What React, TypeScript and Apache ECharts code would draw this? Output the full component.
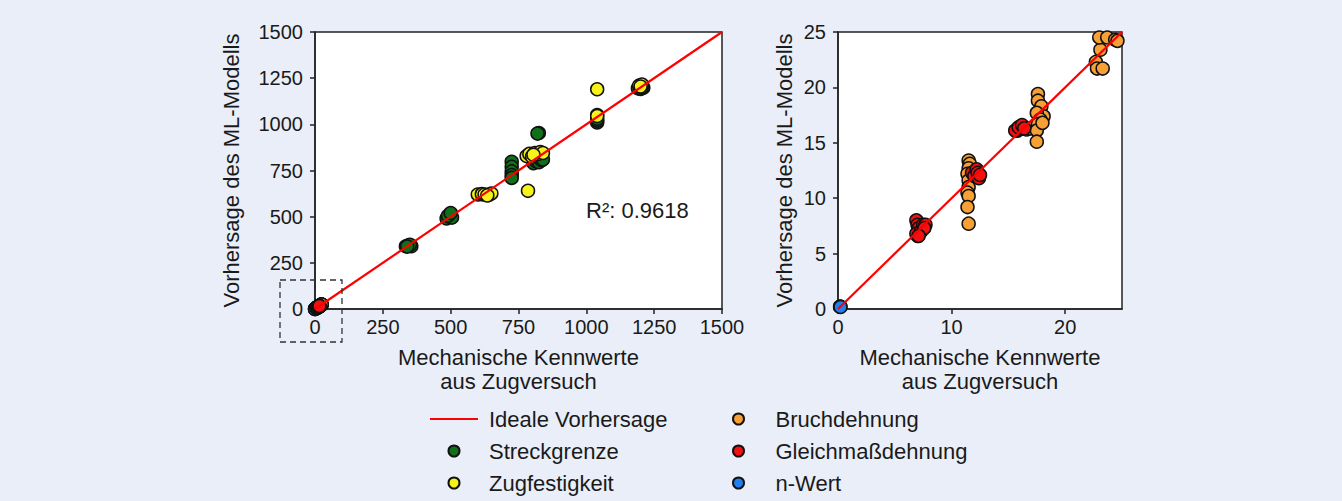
import React, { useEffect, useRef } from "react";
import * as echarts from "echarts";

// Measured vs predicted [Zugversuch, ML-Modell]
const streckgrenze: number[][] = [
  [335, 340], [345, 345], [355, 340], [350, 348], [340, 338],
  [485, 490], [495, 500], [500, 515], [505, 495], [490, 505], [500, 520],
  [725, 797], [725, 770], [725, 745], [725, 725], [725, 710],
  [805, 790], [815, 800], [825, 795], [835, 805], [840, 810], [825, 953], [820, 950],
  [1040, 1010], [1040, 1020], [1040, 1030],
  [1190, 1195], [1200, 1192], [1210, 1198], [1205, 1200],
];
const zugfestigkeit: number[][] = [
  [600, 620], [615, 622], [625, 620], [640, 618], [650, 625], [635, 615],
  [785, 640],
  [780, 828], [790, 840], [800, 825], [810, 845], [820, 838], [830, 850], [840, 845], [805, 835],
  [1040, 1190], [1040, 1050], [1040, 1045],
  [1195, 1210], [1205, 1215], [1200, 1205],
];
const bruchdehnung: number[][] = [
  [7.0, 6.6], [7.2, 6.9],
  [11.5, 13.4], [11.6, 13.1], [11.5, 12.7], [11.4, 12.2], [11.5, 11.6], [11.5, 11.0],
  [11.4, 10.5], [11.5, 10.2], [11.4, 9.2], [11.5, 7.7],
  [15.8, 16.1], [16.2, 16.3], [16.6, 16.2], [16.9, 16.3],
  [17.6, 19.4], [17.6, 18.8], [17.9, 18.3], [18.1, 17.4], [17.5, 17.7], [17.8, 17.1],
  [17.6, 16.7], [17.5, 16.1], [17.5, 15.1], [18.0, 16.8],
  [22.7, 22.3], [22.8, 21.7], [23.3, 21.7], [23.1, 23.4], [23.0, 24.5], [23.7, 24.5],
  [24.4, 24.3], [24.6, 24.2],
];
const gleichmassdehnung: number[][] = [
  [6.9, 8.0], [7.0, 7.6], [7.1, 7.3], [6.9, 6.8], [7.3, 7.0], [7.5, 7.6], [7.7, 7.6], [7.6, 7.3], [7.1, 6.6],
  [11.8, 12.3], [12.0, 12.0], [12.2, 12.6], [12.4, 11.8], [12.3, 12.3], [12.5, 12.1],
  [15.6, 16.1], [15.9, 16.4], [16.2, 16.6], [16.4, 16.3],
];
const nWert: number[][] = [
  [0.18, 0.2], [0.2, 0.22], [0.22, 0.18],
];
const idealLeft = [0, 1500];
const idealRight = [0, 25];
const leftTicks = [0, 250, 500, 750, 1000, 1250, 1500];
const rightXTicks = [0, 10, 20];
const rightYTicks = [0, 5, 10, 15, 20, 25];
const r2Text = "R²: 0.9618";

const FONT = "'Liberation Sans', Arial, sans-serif";
const TXT = "#1a1a1a";
const C = {
  streck: "#10701a",
  zug: "#f7f21a",
  bruch: "#f7a035",
  gleich: "#f21010",
  n: "#1f7ff0",
  ideal: "#ff0000",
};

export default function App() {
  const ref = useRef<HTMLDivElement>(null);
  useEffect(() => {
    if (!ref.current) return;
    const chart = echarts.init(ref.current, undefined, { renderer: "svg" });
    const axisCommon = (ticks: number[], isX: boolean, name: string, gap: number) => ({
      type: "value",
      min: ticks[0],
      max: ticks[ticks.length - 1],
      interval: ticks[1] - ticks[0],
      name,
      nameLocation: "middle",
      nameGap: gap,
      nameTextStyle: { fontFamily: FONT, fontSize: 22, color: TXT, lineHeight: 24 },
      axisLine: { show: true, onZero: false, lineStyle: { color: "#222", width: 1.5 } },
      axisTick: { show: true, inside: false, length: 5, lineStyle: { color: "#222", width: 1.5 } },
      axisLabel: {
        fontFamily: FONT,
        fontSize: 20,
        color: TXT,
        margin: isX ? 8 : 12,
        formatter: (v: number) => String(v),
      },
      splitLine: { show: false },
    });
    const scatter = (name: string, data: number[][], color: string, idx: number, z: number) => ({
      type: "scatter",
      name,
      data,
      xAxisIndex: idx,
      yAxisIndex: idx,
      symbol: "circle",
      symbolSize: 13,
      itemStyle: { color, borderColor: "#111", borderWidth: 1.5, opacity: 1 },
      z,
      clip: true,
    });
    const leftX = axisCommon(leftTicks, true, "Mechanische Kennwerte\naus Zugversuch", 36);
    const leftY = axisCommon(leftTicks, false, "Vorhersage des ML-Modells", 72);
    const rightX: any = axisCommon([0, 25], true, "Mechanische Kennwerte\naus Zugversuch", 36);
    rightX.interval = 10;
    rightX.axisLabel.customValues = rightXTicks;
    rightX.axisTick.customValues = rightXTicks;
    const rightY = axisCommon(rightYTicks, false, "Vorhersage des ML-Modells", 42);

    const legendText = { fontFamily: FONT, fontSize: 22, color: TXT, padding: [0, 0, 0, 6], lineHeight: 24 };

    chart.setOption({
      animation: false,
      backgroundColor: "#e9eef8",
      textStyle: { fontFamily: FONT },
      grid: [
        { left: 315, top: 32, width: 407, height: 277, show: true, backgroundColor: "#fff", borderColor: "#222", borderWidth: 1.5 },
        { left: 838, top: 32, width: 284, height: 277, show: true, backgroundColor: "#fff", borderColor: "#222", borderWidth: 1.5 },
      ],
      xAxis: [{ ...leftX, gridIndex: 0 }, { ...rightX, gridIndex: 1 }],
      yAxis: [{ ...leftY, gridIndex: 0 }, { ...rightY, gridIndex: 1 }],
      legend: [
        {
          data: [
            { name: "Ideale Vorhersage", icon: "path://M0,0H48V2.2H0Z" },
            "Streckgrenze",
            "Zugfestigkeit",
          ],
          orient: "vertical",
          left: 425,
          top: 402,
          height: 100,
          itemWidth: 48,
          itemHeight: 11,
          itemGap: 8,
          symbolKeepAspect: true,
          textStyle: legendText,
          selectedMode: false,
        },
        {
          data: ["Bruchdehnung", "Gleichmaßdehnung", "n-Wert"],
          orient: "vertical",
          left: 727,
          top: 402,
          height: 100,
          itemWidth: 48,
          itemHeight: 11,
          itemGap: 8,
          textStyle: { ...legendText, padding: [0, 0, 0, 8] },
          selectedMode: false,
        },
      ],
      series: [
        scatter("n-Wert", nWert, C.n, 0, 1),
        scatter("Streckgrenze", streckgrenze, C.streck, 0, 2),
        scatter("Zugfestigkeit", zugfestigkeit, C.zug, 0, 3),
        scatter("Bruchdehnung", bruchdehnung, C.bruch, 0, 4),
        scatter("Gleichmaßdehnung", gleichmassdehnung, C.gleich, 0, 5),
        scatter("Bruchdehnung", bruchdehnung, C.bruch, 1, 4),
        scatter("Gleichmaßdehnung", gleichmassdehnung, C.gleich, 1, 5),
        scatter("n-Wert", nWert, C.n, 1, 6),
        {
          type: "line",
          name: "Ideale Vorhersage",
          data: idealLeft.map((v) => [v, v]),
          xAxisIndex: 0,
          yAxisIndex: 0,
          showSymbol: false,
          symbol: "none",
          lineStyle: { color: C.ideal, width: 2.2 },
          itemStyle: { color: C.ideal },
          z: 10,
        },
        {
          type: "line",
          name: "Ideale Vorhersage",
          data: idealRight.map((v) => [v, v]),
          xAxisIndex: 1,
          yAxisIndex: 1,
          showSymbol: false,
          symbol: "none",
          lineStyle: { color: C.ideal, width: 2.2 },
          itemStyle: { color: C.ideal },
          z: 10,
        },
      ],
      graphic: [
        {
          type: "text",
          x: 586,
          y: 210,
          style: { text: r2Text, fontFamily: FONT, fontSize: 22, fill: TXT, textVerticalAlign: "middle" },
          z: 20,
        },
        {
          type: "rect",
          shape: { x: 280, y: 280, width: 62, height: 62 },
          style: { fill: "none", stroke: "#333", lineWidth: 1.3, lineDash: [6, 4] },
          z: 20,
        },
      ],
    });
    return () => chart.dispose();
  }, []);
  return (
    <div
      ref={ref}
      style={{ position: "fixed", left: 0, top: 0, width: 1342, height: 501 }}
    />
  );
}
